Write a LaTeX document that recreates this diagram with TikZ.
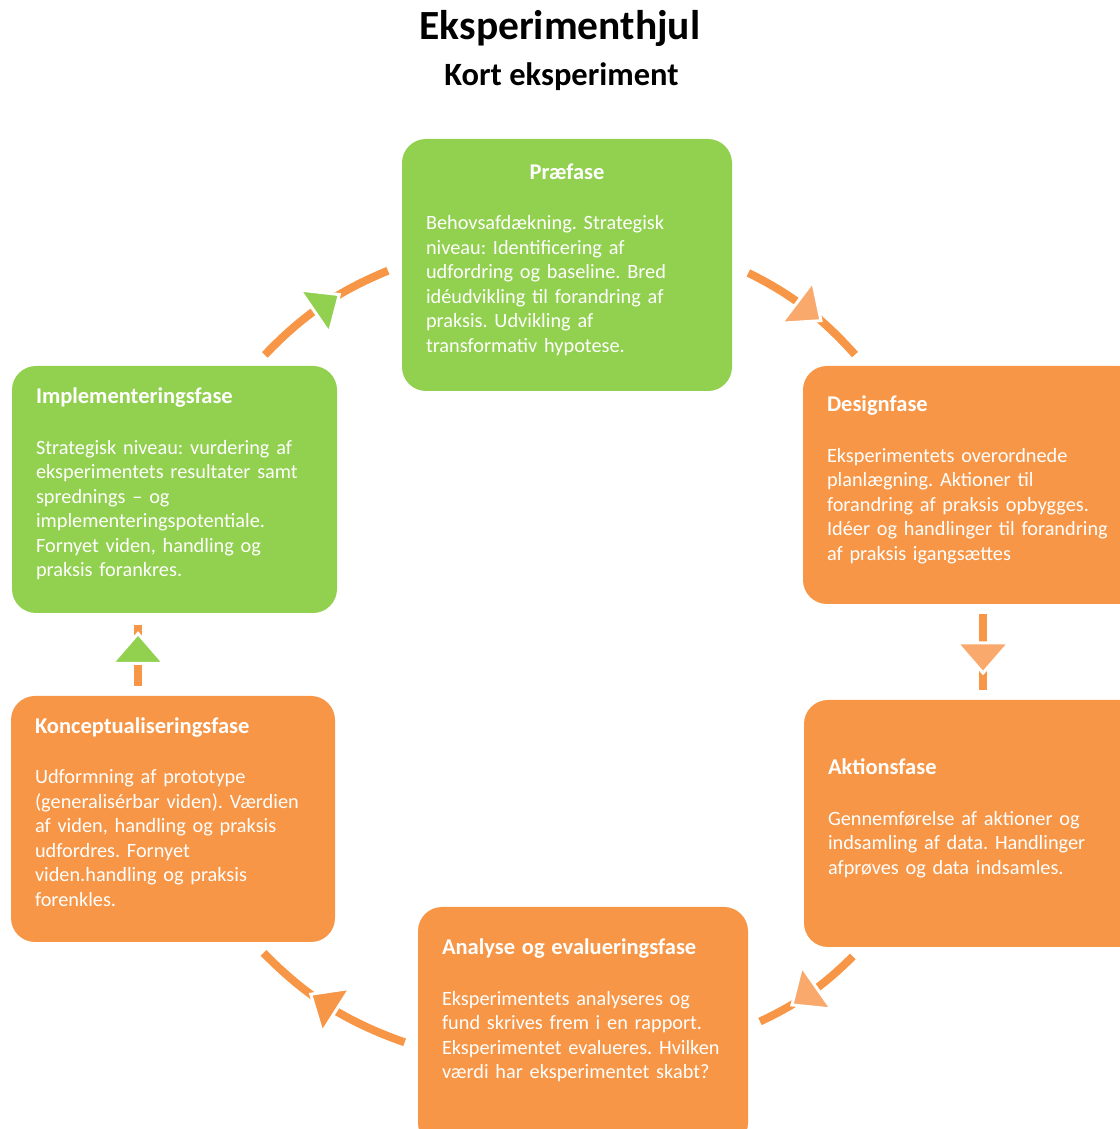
\documentclass[tikz,border=0pt]{standalone}
\usepackage{fontspec}
\setmainfont{Carlito}
\usetikzlibrary{decorations.markings}
\definecolor{phgreen}{RGB}{146, 208, 80}
\definecolor{phorange}{RGB}{247, 150, 70}
\definecolor{headorange}{RGB}{249, 169, 107}
\newcommand{\phasehead}[1]{{\fontsize{22.5}{24.5}\selectfont\bfseries #1}\\[26pt]}
\newcommand{\lift}[1]{\rule[-#1pt]{0pt}{0pt}}
\frenchspacing
\begin{document}
\begin{tikzpicture}[x=1pt, y=1pt,
    phase/.style={rounded corners=24pt, inner xsep=24pt, align=left, text=white,
      font=\fontsize{20.3}{24.5}\selectfont},
    wheel/.style={draw=phorange, line width=8pt, shorten <=13pt, shorten >=13pt,
      postaction={decorate}, decoration={markings, mark=at position 0.5 with
        {\fill[#1, draw=white, line width=3pt] (-9pt,26pt) -- (21pt,0pt) -- (-9pt,-26pt) -- cycle;}}},
    wheel/.default=headorange
  ]
  \useasboundingbox (0,0) rectangle (1119,1129);

  % Titel
  \node[font=\fontsize{41.5}{48}\selectfont\bfseries, anchor=base] (title) at (560,1089) {Eksperimenthjul};
  \node[font=\fontsize{32.5}{38}\selectfont\bfseries, anchor=base] (subtitle) at (561.5,1043) {Kort eksperiment};

  % Faser
  \node[phase, fill=phgreen, text width=282, minimum height=252] (pre) at (567,864)
    {\phasehead{\makebox[\linewidth]{Præfase}}Behovsafdækning. Strategisk\\
     niveau: Identificering af\\
     udfordring og baseline. Bred\\
     idéudvikling til forandring af\\
     praksis. Udvikling af\\
     transformativ hypotese.\lift{14}};
  \node[phase, fill=phorange, text width=292, minimum height=238] (des) at (973,644)
    {\phasehead{Designfase}Eksperimentets overordnede\\
     planlægning. Aktioner til\\
     forandring af praksis opbygges.\\
     Idéer og handlinger til forandring\\
     af praksis igangsættes\lift{14}};
  \node[phase, fill=phorange, text width=292, minimum height=247] (akt) at (974,305.5)
    {\phasehead{Aktionsfase}Gennemførelse af aktioner og\\
     indsamling af data. Handlinger\\
     afprøves og data indsamles.\lift{14}};
  \node[phase, fill=phorange, text width=282, minimum height=240] (ana) at (583,102)
    {\phasehead{Analyse og evalueringsfase}Eksperimentets analyseres og\\
     fund skrives frem i en rapport.\\
     Eksperimentet evalueres. Hvilken\\
     værdi har eksperimentet skabt?\lift{36}};
  \node[phase, fill=phorange, text width=276, minimum height=246] (kon) at (173,310)
    {\phasehead{Konceptualiseringsfase}Udformning af prototype\\
     (generalisérbar viden). Værdien\\
     af viden, handling og praksis\\
     udfordres. Fornyet\\
     viden.handling og praksis\\
     forenkles.\lift{14}};
  \node[phase, fill=phgreen, text width=277, minimum height=247] (imp) at (174.5,639.5)
    {\phasehead{Implementeringsfase}Strategisk niveau: vurdering af\\
     eksperimentets resultater samt\\
     sprednings – og\\
     implementeringspotentiale.\\
     Fornyet viden, handling og\\
     praksis forankres.\lift{14}};

  % Hjulet
  \draw[wheel=phgreen, shorten <=15pt, shorten >=15pt] ([xshift=80]imp.north) to[bend left=12] (pre.west);
  \draw[wheel, shorten <=18pt, shorten >=15pt] (pre.east) to[bend left=11] ([xshift=-108]des.north);
  \draw[wheel, shorten <=10pt, shorten >=10pt] ([xshift=10]des.south) -- ([xshift=9]akt.north);
  \draw[wheel] ([xshift=-112]akt.south) to[bend left=10] (ana.east);
  \draw[wheel=phorange, shorten <=14pt, shorten >=15pt] ([yshift=-20]ana.west) to[bend left=13] ([xshift=80]kon.south);
  \draw[wheel=phgreen, shorten <=10pt, shorten >=12pt] ([xshift=-35]kon.north) -- ([xshift=-36.5]imp.south);
\end{tikzpicture}
\end{document}
